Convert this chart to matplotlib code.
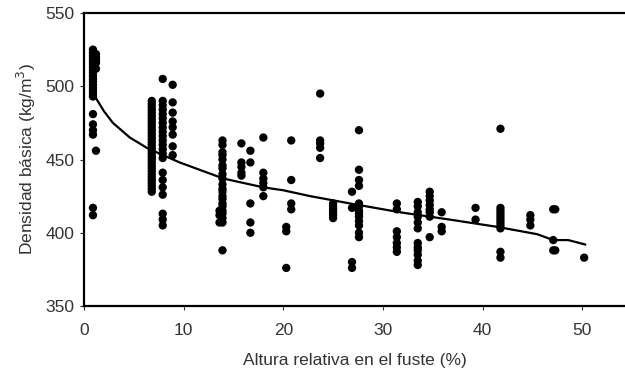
import numpy as np
import matplotlib
matplotlib.use("Agg")
import matplotlib.pyplot as plt

plt.rcParams['font.family'] = ['Liberation Sans', 'DejaVu Sans']

# measured density by relative stem height (one list per sampling height)
x_cols = [0.9, 1.2, 6.8, 7.9, 8.9, 13.6, 13.9, 15.8, 16.7, 18.0, 20.3, 20.8,
          23.7, 25.0, 26.9, 27.6, 31.4, 33.5, 34.7, 35.9, 39.3, 41.8, 44.8,
          47.1, 47.3, 50.2]
y_cols = [
    [525, 523, 521, 519, 517, 515, 513, 511, 509, 507, 505, 503, 501, 499,
     497, 495, 493, 481, 474, 470, 467, 417, 412],
    [522, 520, 518, 516, 512, 456],
    [490, 488, 486, 484, 482, 480, 478, 476, 474, 472, 470, 468, 466, 464,
     462, 460, 458, 456, 454, 452, 450, 448, 446, 444, 442, 440, 438, 436,
     434, 432, 430, 428],
    [505, 490, 487, 484, 481, 478, 475, 472, 469, 466, 463, 460, 457, 454,
     451, 441, 436, 431, 426, 413, 409, 405],
    [501, 489, 482, 476, 472, 467, 459, 453],
    [415, 412, 407],
    [463, 460, 455, 453, 450, 446, 444, 440, 437, 433, 430, 428, 425, 423,
     420, 418, 415, 413, 410, 407, 388],
    [461, 448, 445, 441, 439],
    [456, 448, 420, 407, 400],
    [465, 441, 437, 434, 431, 425],
    [404, 401, 376],
    [463, 436, 420, 416],
    [495, 463, 461, 458, 451],
    [420, 418, 416, 414, 412, 410],
    [428, 417, 380, 376],
    [470, 443, 436, 432, 420, 418, 415, 413, 411, 408, 405, 400, 397],
    [420, 416, 401, 397, 393, 390, 387],
    [421, 418, 414, 411, 407, 403, 393, 390, 388, 385, 381, 378],
    [428, 425, 422, 419, 416, 414, 411, 397],
    [414, 404, 401],
    [417, 409],
    [471, 417, 415, 413, 411, 409, 407, 405, 403, 387, 383],
    [412, 409, 405],
    [416, 395, 388],
    [416, 388],
    [383],
]

# fitted trend line
fit_x = [1.1, 2.0, 2.9, 4.6, 6.3, 7.6, 9.6, 11.6, 14.0, 18.0, 20.0, 22.7,
         26.7, 31.7, 34.7, 36.7, 41.5, 45.5, 47.1, 48.6, 50.3]
fit_y = [493, 483, 475, 465, 458, 454, 448, 443, 437, 431, 429, 425,
         420, 414, 411, 409, 404, 399, 395, 395, 392]

xs = np.concatenate([[x] * len(ys) for x, ys in zip(x_cols, y_cols)])
ys = np.concatenate(y_cols)

fig = plt.figure(figsize=(6.25, 3.77), dpi=100)
ax = fig.add_axes([0.1344, 0.1883, 0.8656, 0.7772])

ax.scatter(xs, ys, s=36, color='black', edgecolors='none', zorder=3)
ax.plot(fit_x, fit_y, color='black', lw=1.6, zorder=2)

ax.set_xlim(0, 54.3)
ax.set_ylim(350, 550)
ax.set_xticks([0, 10, 20, 30, 40, 50])
ax.set_yticks([350, 400, 450, 500, 550])
ax.tick_params(direction='out', length=3, width=0.8, labelsize=12.5,
               colors='#333333', pad=9)
ax.tick_params(axis='y', pad=4)

for s in ['left', 'bottom', 'top']:
    ax.spines[s].set_linewidth(1.6)
ax.spines['right'].set_visible(False)

ax.set_xlabel('Altura relativa en el fuste (%)', fontsize=12.5, color='#333333',
              labelpad=11)
ax.set_ylabel('Densidad básica (kg/m$^3$)', fontsize=12.5, color='#333333',
              labelpad=5)

fig.savefig('out.png', dpi=100)
